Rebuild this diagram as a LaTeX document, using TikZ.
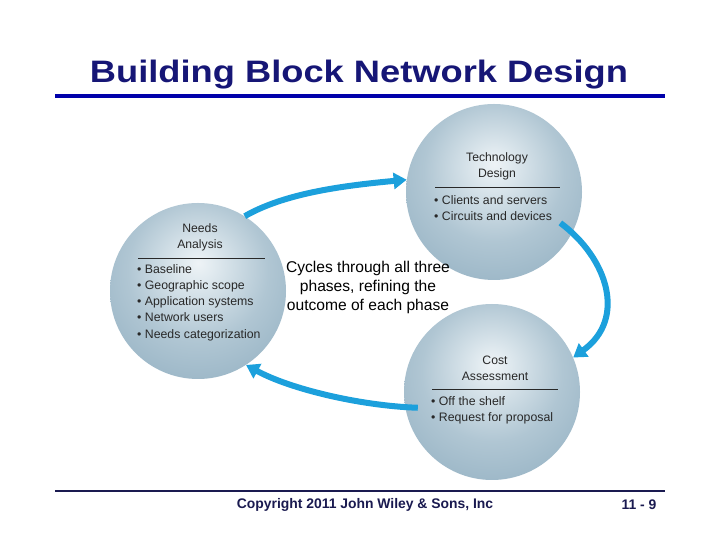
\documentclass[tikz,border=0pt]{standalone}
\usepackage{fontspec}
\setmainfont{Liberation Sans}
\usetikzlibrary{arrows.meta,calc}
\definecolor{titleblue}{RGB}{22,22,118}
\definecolor{ruleblue}{RGB}{0,0,170}
\definecolor{footnavy}{RGB}{26,26,80}
\definecolor{arrowcyan}{RGB}{28,160,220}
\definecolor{ballin}{RGB}{238,243,246}
\definecolor{ballhi}{RGB}{226,235,240}
\definecolor{ballmid}{RGB}{176,198,211}
\definecolor{balllow}{RGB}{140,171,190}
\definecolor{ballout}{RGB}{110,145,168}
\definecolor{circtext}{RGB}{40,40,40}
\pgfdeclareradialshading{phaseball}{\pgfpoint{0bp}{8bp}}{%
  color(0bp)=(ballin); color(4bp)=(ballhi); color(20bp)=(ballmid);
  color(40bp)=(balllow); color(55bp)=(ballout); color(75bp)=(ballout)}
\tikzset{
  phase/.style={circle, minimum size=176pt, inner sep=0pt, shading=phaseball},
  head/.style={align=center, inner sep=0pt, text=circtext, font=\fontsize{12.2}{16}\selectfont},
  items/.style={align=left, anchor=west, inner sep=0pt, text=circtext, font=\fontsize{12.3}{16.2}\selectfont},
  sep/.style={draw=circtext, line width=0.7pt},
  cycle/.style={draw=arrowcyan, line width=6pt, -{Triangle[length=13pt,width=16pt]}},
}
\begin{document}
\begin{tikzpicture}[x=1pt,y=1pt]
\useasboundingbox[fill=white] (0,0) rectangle (720,540);
% title
\node[inner sep=0pt, text=titleblue, font=\fontsize{31}{34}\selectfont\bfseries] (title) at (359,465) {\scalebox{1.17}[1]{Building Block Network Design}};
\draw[ruleblue, line width=4pt] (55,444) -- (665,444);
% circles
\node[phase] (td) at (494,348) {};
\node[phase] (na) at (198,249) {};
\node[phase] (ca) at (492,148) {};
% technology design
\node[head] (tdh) at (497,374) {Technology\\Design};
\draw[sep] (435,353) -- (560,353);
\node[items] (tdi) at (434,332) {\textbullet\ Clients and servers\\\textbullet\ Circuits and devices};
% needs analysis
\node[head] (nah) at (200,303) {Needs\\Analysis};
\draw[sep] (138,282) -- (265,282);
\node[items] (nai) at (137,237.5) {\textbullet\ Baseline\\\textbullet\ Geographic scope\\\textbullet\ Application systems\\\textbullet\ Network users\\\textbullet\ Needs categorization};
% cost assessment
\node[head] (cah) at (495,172) {Cost\\Assessment};
\draw[sep] (432,151) -- (558,151);
\node[items] (cai) at (431,130) {\textbullet\ Off the shelf\\\textbullet\ Request for proposal};
% middle text
\node[align=center, inner sep=0pt, font=\fontsize{15.6}{19}\selectfont] (mid) at (368,253) {Cycles through all three\\phases, refining the\\outcome of each phase};
% cycle arrows
\draw[cycle] (na.58) .. controls +(40,23) and +(-64,-6) .. (td.172);
\draw[cycle] ($(td.center)!0.83!(td.-25)$) .. controls +(47,-35) and +(54,39) .. (ca.23);
\draw[cycle] ($(ca.center)!0.86!(ca.192)$) .. controls +(-58,2) and +(44,-24) .. (na.-57);
% footer
\draw[footnavy, line width=2.5pt] (55,49) -- (665,49);
\node[inner sep=0pt, text=footnavy, font=\fontsize{13.9}{16}\selectfont\bfseries] (copy) at (365,35) {Copyright 2011 John Wiley \& Sons, Inc};
\node[inner sep=0pt, text=footnavy, font=\fontsize{13.9}{16}\selectfont\bfseries] (page) at (639,35) {11 - 9};
\end{tikzpicture}
\end{document}
